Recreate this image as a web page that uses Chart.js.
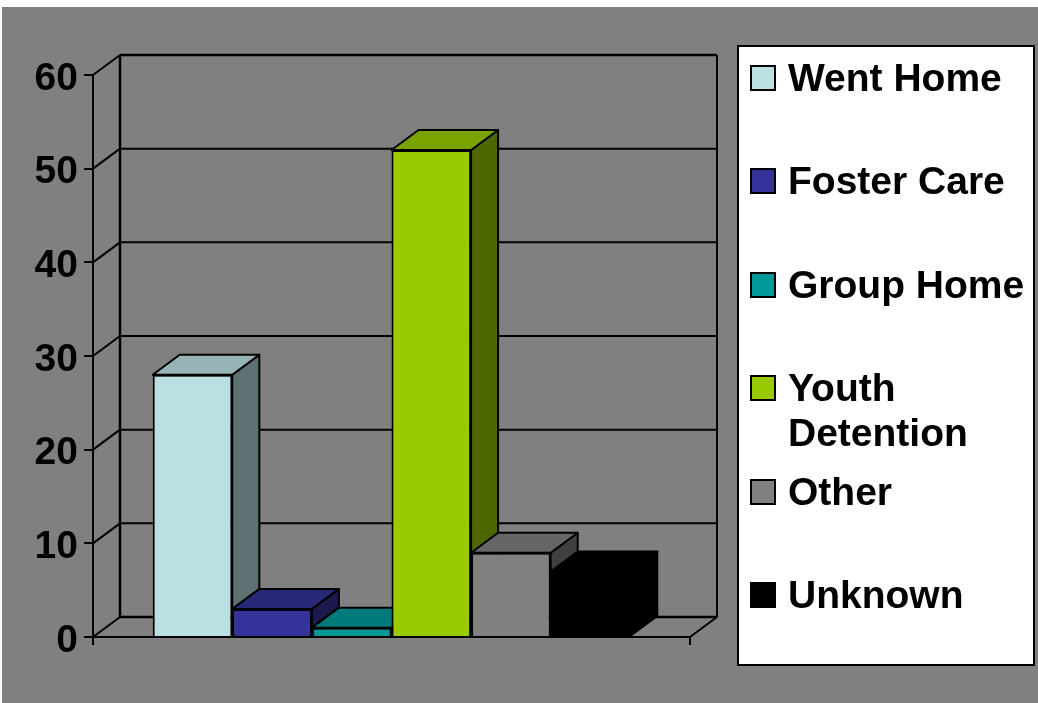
<!DOCTYPE html>
<html>
<head>
<meta charset="utf-8">
<title>Placement outcomes</title>
<script src="https://cdn.jsdelivr.net/npm/chart.js@4"></script>
<style>
  html, body { margin: 0; padding: 0; background: #fff; overflow: hidden; }
  #panel { position: absolute; left: 2px; top: 7px; width: 1036px; height: 696px; background: #808080; }
  #chart { position: absolute; left: 0; top: 0; }
  #legend {
    position: absolute; left: 737px; top: 45px; width: 294px; height: 617px;
    background: #fff; border: 2px solid #000; box-sizing: content-box;
    font: bold 39px "Liberation Sans", Arial, sans-serif; color: #000;
    padding: 0; margin: 0; list-style: none;
  }
  #legend li { position: relative; height: 103.4px; padding-left: 49px; line-height: 45px; box-sizing: border-box; top: 8px; }
  #legend li span {
    position: absolute; left: 11px; top: 10px; width: 26px; height: 26px;
    border: 2px solid #000; box-sizing: border-box;
  }
</style>
</head>
<body>
<div id="panel"></div>
<canvas id="chart" width="1038" height="703"></canvas>
<ul id="legend"></ul>
<script>
// values
const categories = [''];
const seriesNames = ['Went Home', 'Foster Care', 'Group Home', 'Youth Detention', 'Other', 'Unknown'];
const seriesValues = [28, 3, 1, 52, 9, 7];
const seriesColors = ['#BBE0E3', '#333399', '#009999', '#99CC00', '#808080', '#000000'];
const yTicks = [0, 10, 20, 30, 40, 50, 60];

// the 3D look: how far the back wall sits from the front plane
const DEPTH_X = 27;
const DEPTH_Y = 20;
const TOP_SHADE = 0.8;
const SIDE_SHADE = 0.5;

function shade(hex, k) {
  const n = parseInt(hex.slice(1), 16);
  const r = Math.round((n >> 16) * k);
  const g = Math.round(((n >> 8) & 255) * k);
  const b = Math.round((n & 255) * k);
  return `rgb(${r},${g},${b})`;
}

function poly(ctx, pts, fill) {
  ctx.beginPath();
  pts.forEach((p, i) => i ? ctx.lineTo(p[0], p[1]) : ctx.moveTo(p[0], p[1]));
  ctx.closePath();
  if (fill) {
    ctx.fillStyle = fill;
    ctx.fill();
  }
  ctx.stroke();
}

function line(ctx, x1, y1, x2, y2, width) {
  ctx.lineWidth = width;
  ctx.beginPath();
  ctx.moveTo(x1, y1);
  ctx.lineTo(x2, y2);
  ctx.stroke();
}

// back wall, floor and the slanted grid lines
const wallPlugin = {
  id: 'wall',
  beforeDatasetsDraw(chart) {
    const ctx = chart.ctx;
    const { left, right, bottom } = chart.chartArea;
    const y = chart.scales.y;
    const backL = left + DEPTH_X;
    const backR = right + DEPTH_X;
    ctx.save();
    ctx.strokeStyle = '#000';
    yTicks.forEach(v => {
      const py = y.getPixelForValue(v);
      const w = (v === 60 || v === 0) ? 2.5 : 2;
      line(ctx, left, py, backL, py - DEPTH_Y, 2);
      line(ctx, backL, py - DEPTH_Y, backR, py - DEPTH_Y, w);
    });
    const top = y.getPixelForValue(60) - DEPTH_Y;
    line(ctx, backL, top, backL, bottom - DEPTH_Y, 2.5);
    line(ctx, backR, top, backR, bottom - DEPTH_Y, 2);
    line(ctx, right, bottom, backR, bottom - DEPTH_Y, 2);
    ctx.restore();
  }
};

// top and side faces, left to right so nearer bars paint over earlier ones
const depthPlugin = {
  id: 'depth',
  beforeDatasetsDraw(chart) {
    const ctx = chart.ctx;
    ctx.save();
    ctx.strokeStyle = '#000';
    ctx.lineWidth = 2;
    ctx.lineJoin = 'round';
    chart.data.datasets.forEach((ds, i) => {
      const bar = chart.getDatasetMeta(i).data[0];
      const l = bar.x - bar.width / 2;
      const r = bar.x + bar.width / 2;
      const t = bar.y;
      const b = bar.base;
      poly(ctx, [[r, t], [r + DEPTH_X, t - DEPTH_Y], [r + DEPTH_X, b - DEPTH_Y], [r, b]], shade(seriesColors[i], SIDE_SHADE));
      poly(ctx, [[l, t], [l + DEPTH_X, t - DEPTH_Y], [r + DEPTH_X, t - DEPTH_Y], [r, t]], shade(seriesColors[i], TOP_SHADE));
    });
    ctx.restore();
  }
};

const datasets = seriesNames.map((name, i) => ({
  label: name,
  data: [seriesValues[i]],
  backgroundColor: seriesColors[i],
  borderColor: '#000',
  // a border on the black bar leaves a faint seam, so it goes without
  borderWidth: seriesColors[i] === '#000000' ? 0 : 2,
  categoryPercentage: 0.8,
  barPercentage: 1
}));

new Chart(document.getElementById('chart').getContext('2d'), {
  type: 'bar',
  data: { labels: categories, datasets: datasets },
  plugins: [wallPlugin, depthPlugin],
  options: {
    responsive: false,
    animation: false,
    layout: { padding: { left: 0, top: 75, right: 348, bottom: 58 } },
    plugins: {
      legend: { display: false },
      tooltip: { enabled: false }
    },
    scales: {
      x: {
        z: 1,
        afterFit(scale) { scale.height = 8; },
        ticks: { display: false },
        border: { color: '#000', width: 2 },
        grid: { drawOnChartArea: false, tickLength: 8, tickColor: '#000', lineWidth: 2 }
      },
      y: {
        min: 0,
        max: 60,
        afterFit(scale) { scale.width = 93; },
        ticks: {
          stepSize: 10,
          padding: 6,
          labelOffset: 4,
          color: '#000',
          font: { family: '"Liberation Sans", Arial, sans-serif', size: 39, weight: 'bold' }
        },
        border: { color: '#000', width: 2 },
        grid: { drawOnChartArea: false, tickLength: 9, tickColor: '#000', lineWidth: 2 }
      }
    }
  }
});

// legend as a html list, one slot per series
const legend = document.getElementById('legend');
seriesNames.forEach((name, i) => {
  const li = document.createElement('li');
  const box = document.createElement('span');
  box.style.background = seriesColors[i];
  li.appendChild(box);
  li.appendChild(document.createTextNode(name));
  legend.appendChild(li);
});
</script>
</body>
</html>
